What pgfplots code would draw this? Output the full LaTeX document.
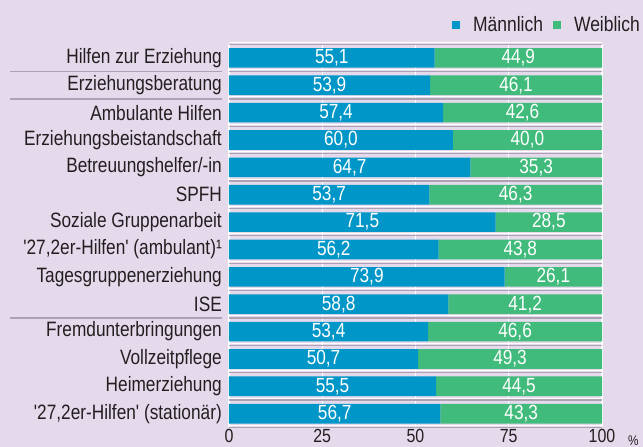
\documentclass[border=0pt]{standalone}
\usepackage{fontspec}
\newfontfamily\lab[FakeStretch=0.83]{Liberation Sans}
\newfontfamily\numfont[FakeStretch=0.84]{Liberation Sans}
\usepackage{pgfplots}
\usepackage{pgfplotstable}
\pgfplotsset{compat=1.18}
\definecolor{bg}{HTML}{E4DAEC}
\definecolor{mblue}{HTML}{0096C8}
\definecolor{wgreen}{HTML}{41BB7C}
\definecolor{sepgray}{HTML}{ABA3B3}
\definecolor{txt}{HTML}{231F20}
\pgfplotstableread{
idx m w
0 55.1 44.9
1 53.9 46.1
2 57.4 42.6
3 60.0 40.0
4 64.7 35.3
5 53.7 46.3
6 71.5 28.5
7 56.2 43.8
8 73.9 26.1
9 58.8 41.2
10 53.4 46.6
11 50.7 49.3
12 55.5 44.5
13 56.7 43.3
}\data
\begin{document}
\begin{tikzpicture}
\fill[bg] (0,0) rectangle (643pt,447pt);
\begin{axis}[
  at={(229pt,19.6pt)}, anchor=south west, scale only axis,
  width=373pt, height=383.2pt,
  xmin=0, xmax=100, ymin=-0.5, ymax=13.5, y dir=reverse,
  xbar stacked, bar width=19.7pt,
  axis line style={draw=none},
  clip=false,
  major tick length=0pt, minor tick length=0pt,
  tick style={draw=none},
  xtick={0,25,50,75,100}, xticklabels={0,25,50,75,100},
  xticklabel style={anchor=north, inner sep=0pt, yshift=-1.5pt, font=\numfont\fontsize{19}{19}\selectfont, text=txt},
  xmajorgrids, major grid style={white, line width=1.2pt},
  ytick={0,...,13},
  yticklabels={{Hilfen zur Erziehung},{Erziehungsberatung},{Ambulante Hilfen},{Erziehungsbeistandschaft},{Betreuungshelfer/-in},{SPFH},{Soziale Gruppenarbeit},{'27,2er-Hilfen' (ambulant)¹},{Tagesgruppenerziehung},{ISE},{Fremdunterbringungen},{Vollzeitpflege},{Heimerziehung},{'27,2er-Hilfen' (stationär)}},
  yticklabel style={anchor=east, inner sep=0pt, xshift=-7pt, font=\lab\fontsize{20.8}{21}\selectfont, text=txt},
  minor ytick={-0.5,0.5,...,13.5}, yminorgrids, minor grid style={sepgray, line width=1.2pt},
  legend style={draw=none, fill=none, legend columns=2, at={(1,1)}, anchor=south east, xshift=43pt, yshift=7pt,
    font=\numfont\fontsize{20.8}{21}\selectfont, text=txt,
    /tikz/every odd column/.append style={column sep=11pt},
    /tikz/every even column/.append style={column sep=8pt}},
]
\addplot[fill=mblue, draw=none, legend image code/.code={\fill[mblue] (0pt,-4pt) rectangle (8pt,4pt);}] table[x=m, y=idx]{\data};
\addplot[fill=wgreen, draw=none, legend image code/.code={\fill[wgreen] (0pt,-4pt) rectangle (8pt,4pt);}] table[x=w, y=idx]{\data};
\legend{Männlich, Weiblich}
\pgfplotsinvokeforeach{-0.5,0.5,...,13.5}{
  \draw[white, line width=1pt] ([yshift=2pt]axis cs:0,#1) -- ([yshift=2pt]axis cs:100,#1);
}
\pgfplotsinvokeforeach{0.5,1.5,9.5}{
  \draw[sepgray, line width=1.2pt] ([xshift=-219pt]axis cs:0,#1) -- ([xshift=-7pt]axis cs:0,#1);
}
\node[anchor=north west, inner sep=0pt, text=txt, font=\numfont\fontsize{14}{14}\selectfont] at ([xshift=26pt, yshift=-8pt]axis cs:100,13.5) {\%};
\end{axis}
\begin{axis}[
  at={(229pt,19.6pt)}, anchor=south west, scale only axis,
  width=373pt, height=383.2pt,
  xmin=0, xmax=100, ymin=-0.5, ymax=13.5, y dir=reverse,
  hide axis, clip=false,
  nodes near coords={\pgfmathprintnumber[fixed, fixed zerofill, precision=1, use comma, assume math mode=true]{\pgfplotspointmeta}},
  nodes near coords align=center,
  every node near coord/.append style={text=white, font=\numfont\fontsize{20.5}{20}\selectfont, inner sep=0pt},
  point meta=explicit,
]
\addplot[draw=none, mark=none] table[x expr=\thisrow{m}/2, y=idx, meta=m]{\data};
\addplot[draw=none, mark=none] table[x expr=\thisrow{m}+\thisrow{w}/2, y=idx, meta=w]{\data};
\end{axis}
\pgfresetboundingbox
\useasboundingbox (0,0) rectangle (643pt,447pt);
\end{tikzpicture}
\end{document}
